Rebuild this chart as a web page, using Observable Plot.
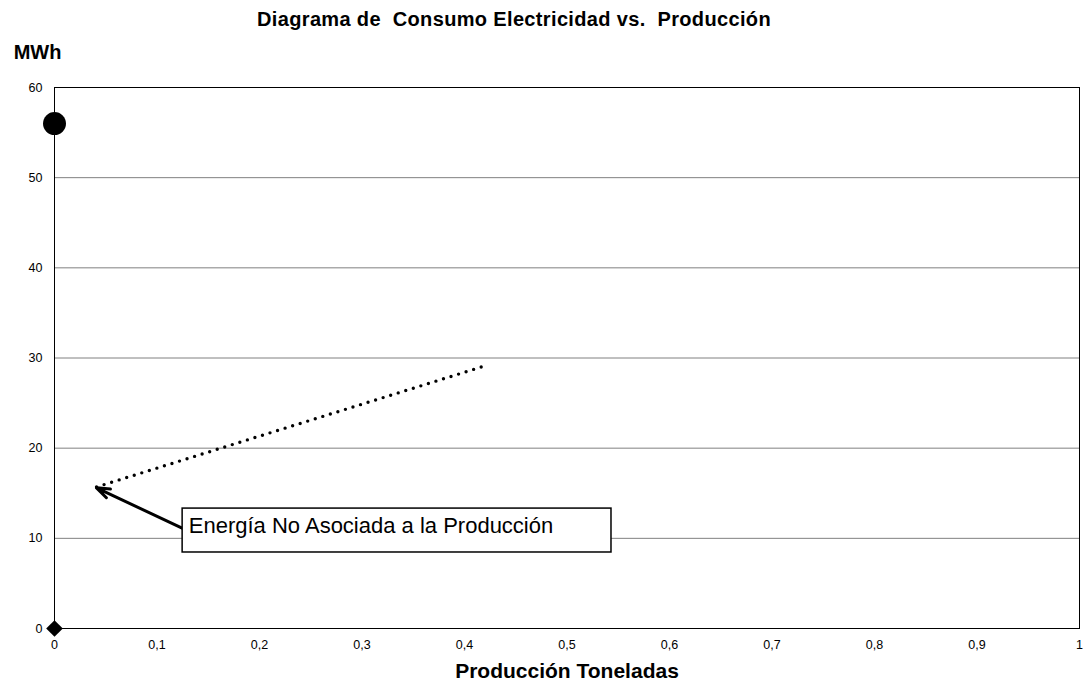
<!DOCTYPE html>
<html><head><meta charset="utf-8">
<script src="https://cdn.jsdelivr.net/npm/d3@7"></script>
<script src="https://cdn.jsdelivr.net/npm/@observablehq/plot@0.6"></script>
<style>
body{margin:0;background:#fff;font-family:"Liberation Sans",Arial,sans-serif;}
#title{height:40px;width:1087px;box-sizing:border-box;padding-top:9px;line-height:20px;text-align:center;padding-right:59px;font-weight:bold;font-size:20px;letter-spacing:0.35px;color:#000;white-space:pre;}
</style></head>
<body>
<div id="title">Diagrama de  Consumo Electricidad vs.  Producción</div>
<div id="chart"></div>
<script>
// Data
const xTicks = [0,0.1,0.2,0.3,0.4,0.5,0.6,0.7,0.8,0.9,1];
const yTicks = [0,10,20,30,40,50,60];
const gridValues = [10,20,30,40,50];
const bigPointX = [0];
const bigPointY = [56];
const originX = [0];
const originY = [0];
const trendX = [0.041, 0.422];
const trendY = [15.7, 29.2];
const noteText = ["Energía No Asociada a la Producción"];
const noteBoxX = [0.125, 0.5434];
const noteBoxY = [8.43, 13.3];
const noteTextPos = [0.131, 11.4];
const arrowFrom = [0.125, 11.1];
const arrowTo = [0.041, 15.6];

const fmt = d => String(d).replace(".", ",");
const trend = trendX.map((x,i)=>({x, y: trendY[i]}));

const chart = Plot.plot({
  width: 1087, height: 644,
  marginLeft: 54, marginRight: 8, marginTop: 47, marginBottom: 56,
  style: {fontFamily: '"Liberation Sans", Arial, sans-serif', fontSize: "12.5px", color: "#000", background: "#fff"},
  x: {domain: [0,1], ticks: xTicks},
  y: {domain: [0,60], ticks: yTicks},
  marks: [
    Plot.gridY(gridValues, {stroke: "#808080", strokeOpacity: 1, strokeWidth: 1}),
    Plot.frame({stroke: "#000", strokeWidth: 1}),
    Plot.axisY(yTicks, {tickSize: 0, tickPadding: 12, fontSize: 12.5, label: null, tickFormat: fmt}),
    Plot.axisX(xTicks, {tickSize: 0, tickPadding: 12, fontSize: 12.5, label: null, tickFormat: fmt}),
    Plot.line(trend, {x: "x", y: "y", stroke: "#000", strokeWidth: 3.4, strokeDasharray: "0,7.9", strokeLinecap: "round"}),
    Plot.arrow([{x1: arrowFrom[0], y1: arrowFrom[1], x2: arrowTo[0], y2: arrowTo[1]}],
      {x1: "x1", y1: "y1", x2: "x2", y2: "y2", stroke: "#000", strokeWidth: 3, headLength: 7, headAngle: 40, bend: 0}),
    Plot.rect([{x1: noteBoxX[0], x2: noteBoxX[1], y1: noteBoxY[0], y2: noteBoxY[1]}],
      {x1: "x1", x2: "x2", y1: "y1", y2: "y2", fill: "#fff", stroke: "#000", strokeWidth: 1.5}),
    Plot.text(noteText, {x: () => noteTextPos[0], y: () => noteTextPos[1], text: d => d, textAnchor: "start", fontSize: 22, fill: "#000"}),
    Plot.dot(bigPointX.map((x,i)=>({x, y: bigPointY[i]})), {x: "x", y: "y", r: 11.5, fill: "#000", stroke: "none"}),
    Plot.dot(originX.map((x,i)=>({x, y: originY[i]})), {x: "x", y: "y", r: 7.5, symbol: "diamond2", fill: "#000", stroke: "none"}),
    Plot.text(["MWh"], {frameAnchor: "top-left", lineAnchor: "middle", dx: -17, dy: -35, text: d => d, textAnchor: "middle", fontSize: 20, fontWeight: "bold", fill: "#000"}),
    Plot.text(["Producción Toneladas"], {frameAnchor: "bottom", lineAnchor: "middle", dy: 43, text: d => d, textAnchor: "middle", fontSize: 21, fontWeight: "bold", fill: "#000"})
  ]
});
document.getElementById("chart").appendChild(chart);
</script>
</body></html>
